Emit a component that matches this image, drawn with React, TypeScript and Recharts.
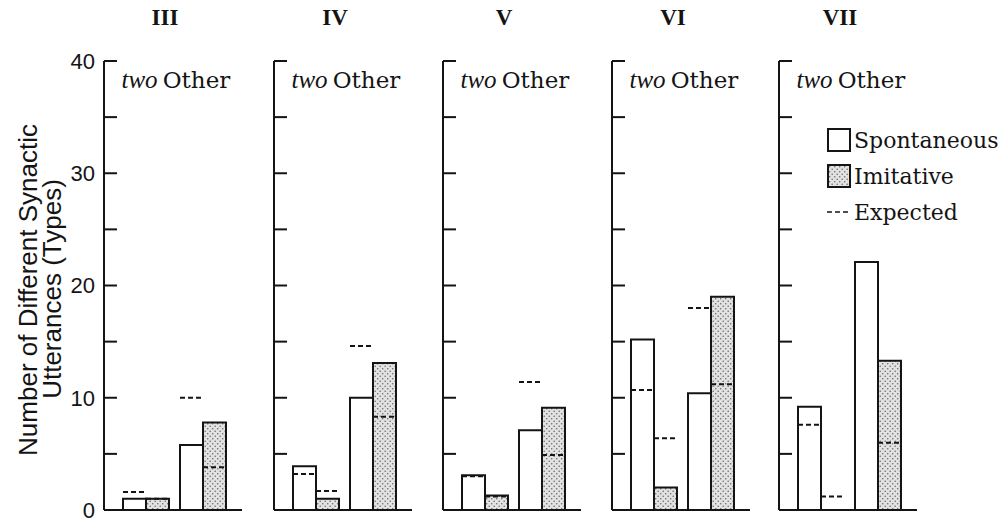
import React from "react";
import { BarChart, Bar, XAxis, YAxis, ReferenceLine, Legend } from "recharts";

const SERIF = '"DejaVu Serif", "Liberation Serif", serif';
const TIMES = '"Liberation Serif", serif';
const SANS = '"Liberation Sans", Arial, sans-serif';
const INK = "#141414";

// data: one entry per panel, [two, Other]
const panelNames = ["III", "IV", "V", "VI", "VII"];
const categories = ["two", "Other"];
const spontaneous = [
  [1.0, 5.8],
  [3.9, 10.0],
  [3.1, 7.1],
  [15.2, 10.4],
  [9.2, 22.1],
];
const imitative = [
  [1.0, 7.8],
  [1.0, 13.1],
  [1.3, 9.1],
  [2.0, 19.0],
  [0, 13.3],
];
const expectedSpontaneous = [
  [1.6, 10.0],
  [3.2, 14.6],
  [3.0, 11.4],
  [10.7, 18.0],
  [7.6, 22.1],
];
const expectedImitative = [
  [1.0, 3.8],
  [1.7, 8.3],
  [1.2, 4.9],
  [6.4, 11.2],
  [1.2, 6.0],
];
const yTicks = [0, 5, 10, 15, 20, 25, 30, 35, 40];
const legendOrder = ["spontaneous", "imitative", "expectedSpontaneous"];

// layout
const axisLeft = [104, 274, 443, 612, 779];
const Y_W = 40;
const PLOT_W = 138;
const LEGEND_W = 90;

const rowsFor = (p: number) =>
  categories.map((c, i) => ({
    category: c,
    spontaneous: spontaneous[p][i],
    imitative: imitative[p][i] || null,
    expectedSpontaneous: expectedSpontaneous[p][i],
    expectedImitative: expectedImitative[p][i],
  }));

const DashShape = (props: any) => {
  const { x, y, width, value } = props;
  if (value == null) return null;
  return (
    <line
      x1={x}
      x2={x + width}
      y1={y}
      y2={y}
      stroke={INK}
      strokeWidth={2}
      strokeDasharray="5 3"
    />
  );
};

const CategoryTick = (props: any) => {
  const { x, y, payload } = props;
  const italic = payload.value === "two";
  return (
    <text
      x={x - 6}
      y={y}
      dy={27}
      textAnchor="middle"
      fill={INK}
      fontFamily={italic ? TIMES : SERIF}
      fontStyle={italic ? "italic" : "normal"}
      fontSize={italic ? 25 : 23}
    >
      {payload.value}
    </text>
  );
};

const LegendContent = (props: any) => {
  const items = (props.payload || [])
    .filter((p: any) => legendOrder.includes(p.dataKey))
    .sort((a: any, b: any) => legendOrder.indexOf(a.dataKey) - legendOrder.indexOf(b.dataKey));
  return (
    <div style={{ fontFamily: SERIF, fontSize: 22, color: INK, width: 180 }}>
      {items.map((p: any) => (
        <div key={p.dataKey} style={{ display: "flex", alignItems: "center", height: 36 }}>
          <svg width={26} height={26} style={{ marginRight: 2 }}>
            {p.dataKey === "expectedSpontaneous" ? (
              <line x1={1} x2={24} y1={13} y2={13} stroke={INK} strokeWidth={1.5} strokeDasharray="5 3" />
            ) : (
              <rect
                x={2}
                y={2}
                width={22}
                height={22}
                fill={p.dataKey === "imitative" ? "url(#dots-legend)" : "#fff"}
                stroke={INK}
                strokeWidth={2}
              />
            )}
          </svg>
          <span>{p.value}</span>
        </div>
      ))}
    </div>
  );
};

const DotPattern = ({ id }: { id: string }) => (
  <pattern id={id} width={5} height={5} patternUnits="userSpaceOnUse">
    <rect width={5} height={5} fill="#e2e2e2" />
    <circle cx={1.2} cy={1.2} r={0.8} fill="#6a6a6a" />
    <circle cx={3.7} cy={3.7} r={0.8} fill="#6a6a6a" />
  </pattern>
);

function Panel({ index }: { index: number }) {
  const first = index === 0;
  const last = index === panelNames.length - 1;
  const width = Y_W + PLOT_W + (last ? LEGEND_W : 0);
  const pad = { left: 13, right: 11 };
  return (
    <div style={{ position: "absolute", left: axisLeft[index] - Y_W, top: 0 }}>
      <div
        style={{
          position: "absolute",
          left: Y_W,
          width: PLOT_W - 16,
          top: 5,
          textAlign: "center",
          fontFamily: TIMES,
          fontWeight: "bold",
          fontSize: 23,
          color: INK,
        }}
      >
        {panelNames[index]}
      </div>
      <BarChart
        width={width}
        height={520}
        data={rowsFor(index)}
        margin={{ top: 31, right: last ? LEGEND_W : 0, bottom: 10, left: 0 }}
        barGap={0}
        barSize={23}
      >
        <defs>
          <DotPattern id={`dots-${index}`} />
          {last && <DotPattern id="dots-legend" />}
        </defs>
        <XAxis
          xAxisId={0}
          dataKey="category"
          orientation="top"
          height={30}
          axisLine={false}
          tickLine={false}
          tickSize={0}
          tickMargin={0}
          interval={0}
          padding={pad}
          tick={<CategoryTick />}
        />
        <XAxis xAxisId={1} dataKey="category" hide padding={pad} />
        <YAxis
          domain={[0, 40]}
          ticks={yTicks}
          interval={0}
          width={Y_W}
          tickSize={-13}
          tickMargin={22}
          axisLine={{ stroke: INK, strokeWidth: 2 }}
          tickLine={{ stroke: INK, strokeWidth: 2 }}
          tick={{ fill: INK, fontSize: 22, fontFamily: SANS }}
          tickFormatter={(v: number) => (first && v % 10 === 0 ? String(v) : "")}
        />
        <ReferenceLine y={0} xAxisId={0} stroke={INK} strokeWidth={2} />
        <Bar
          xAxisId={0}
          dataKey="spontaneous"
          name="Spontaneous"
          fill="#fff"
          stroke={INK}
          strokeWidth={2}
          isAnimationActive={false}
        />
        <Bar
          xAxisId={0}
          dataKey="imitative"
          name="Imitative"
          fill={`url(#dots-${index})`}
          stroke={INK}
          strokeWidth={2}
          isAnimationActive={false}
        />
        <Bar
          xAxisId={1}
          dataKey="expectedSpontaneous"
          name="Expected"
          legendType="line"
          shape={DashShape}
          isAnimationActive={false}
        />
        <Bar
          xAxisId={1}
          dataKey="expectedImitative"
          legendType="none"
          shape={DashShape}
          isAnimationActive={false}
        />
        {last && (
          <Legend
            content={<LegendContent />}
            wrapperStyle={{
              position: "absolute",
              left: 87,
              top: 122,
              bottom: "auto",
              width: 0,
              height: 0,
              overflow: "visible",
            }}
          />
        )}
      </BarChart>
    </div>
  );
}

export default function App() {
  return (
    <div style={{ position: "absolute", left: 0, top: 0, width: 1000, height: 520, background: "#fff" }}>
      <svg width={80} height={520} style={{ position: "absolute", left: 0, top: 0 }}>
        <g fontFamily={SANS} fontSize={26} fill={INK} textAnchor="middle">
          <text transform="translate(37,290) rotate(-90)">Number of Different Synactic</text>
          <text transform="translate(61,289) rotate(-90)">Utterances (Types)</text>
        </g>
      </svg>
      {panelNames.map((_, i) => (
        <Panel key={i} index={i} />
      ))}
    </div>
  );
}
